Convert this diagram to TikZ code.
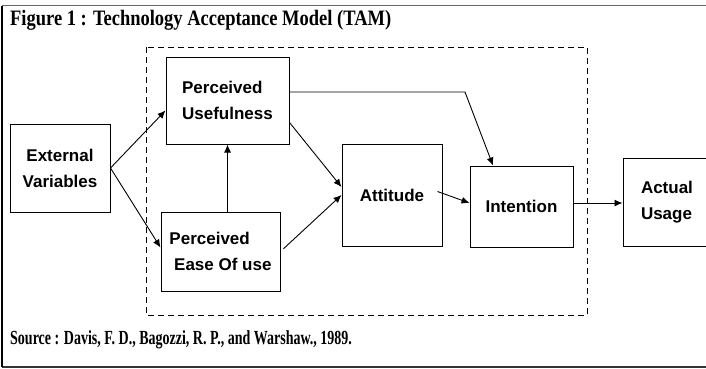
\documentclass[tikz,border=0pt]{standalone}
\usepackage{fontspec}
\setmainfont{Liberation Serif}
\newfontfamily\boxfont{Liberation Sans}
\usetikzlibrary{positioning,arrows.meta}

\begin{document}
\begin{tikzpicture}[x=1pt, y=-1pt,
    box/.style={draw=black, line width=1pt, font=\boxfont\bfseries\fontsize{17}{26}\selectfont, inner sep=0pt},
    link/.style={-{Latex[length=8pt,width=7pt]}, line width=0.9pt}]
    \clip (0,0) rectangle (706,368);
    % frame
    \draw[line width=1.2pt, gray!80!black] (2,5.5) -- (706,5.5);
    \draw[line width=1.2pt, black!80] (2,367) -- (706,367);
    \draw[line width=1.2pt] (2,5.5) -- (2,367);
    % captions
    \node[anchor=west, inner sep=0pt] at (10,20) (title)
        {\scalebox{0.84}[1]{\bfseries\fontsize{22}{24}\selectfont Figure 1 : Technology Acceptance Model (TAM)}};
    \node[anchor=west, inner sep=0pt] at (10,340) (source)
        {\scalebox{0.7}[1]{\bfseries\fontsize{20}{24}\selectfont Source : Davis, F. D., Bagozzi, R. P., and Warshaw., 1989.}};
    % model
    \draw[line width=1pt, dashed, dash pattern=on 6pt off 4pt] (146,47) rectangle (587,315);
    \node[box, minimum width=100pt, minimum height=88pt, align=center] at (60,168) (ev) {External\\Variables};
    \node[box, minimum width=123pt, minimum height=87pt, align=left] at (227.5,100.5) (pu) {Perceived\\Usefulness};
    \node[box, minimum width=119pt, minimum height=79pt, align=left] at (220.5,251.5) (peou) {Perceived\\\ Ease Of use};
    \node[box, minimum width=100pt, minimum height=102pt] at (392,195) (att) {Attitude};
    \node[box, minimum width=103pt, minimum height=81pt] at (521.5,206.5) (int) {Intention};
    \node[box, minimum width=100pt, minimum height=88pt, align=left, text width=64pt] at (673,202) (au) {Actual\\Usage};
    \coordinate (bend) at (465,92);
    % arrows
    \draw[link] (ev.east) -- ([yshift=-10pt]pu.west);
    \draw[link] (ev.east) -- ([yshift=4pt]peou.west);
    \draw[link] (peou.north -| pu.south) -- (pu.south);
    \draw[link] ([yshift=-22pt]pu.east) -- ([yshift=8pt]att.west);
    \draw[link, shorten <=4pt] (peou.east) -- (att.west);
    \draw[link] ([yshift=8.5pt]pu.east) -- (bend) -- ([xshift=-28.5pt]int.north);
    \draw[link] ([xshift=-5pt, yshift=3.5pt]att.east) -- ([yshift=3.5pt]int.west);
    \draw[link] ([yshift=3.5pt]int.east) -- (au.west |- {(0,203)});
\end{tikzpicture}
\end{document}
